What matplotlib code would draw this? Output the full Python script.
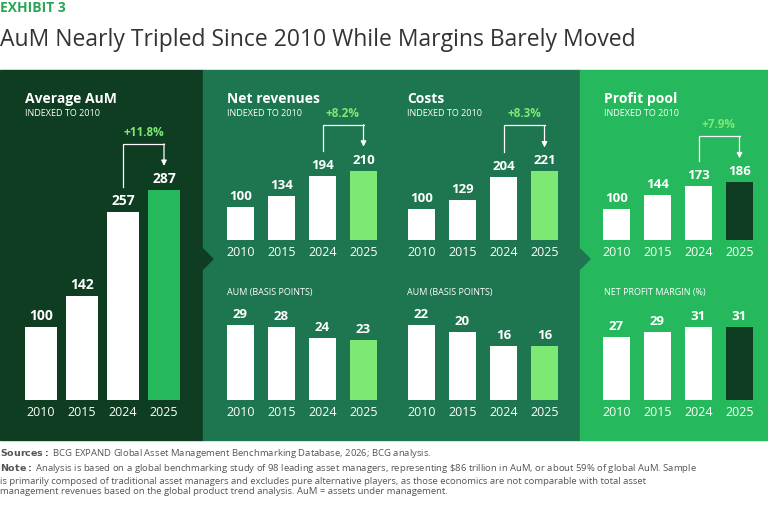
import matplotlib.pyplot as plt
from matplotlib.patches import Rectangle, Polygon

plt.rcParams['font.family'] = ['Open Sans', 'DejaVu Sans']

years = ["2010", "2015", "2024", "2025"]
aum = [100, 142, 257, 287]
net_rev = [100, 134, 194, 210]
costs = [100, 129, 204, 221]
profit = [100, 144, 173, 186]
rev_bp = [29, 28, 24, 23]
cost_bp = [22, 20, 16, 16]
margin = [27, 29, 31, 31]
growth = {"aum": "+11.8%", "rev": "+8.2%", "cost": "+8.3%", "profit": "+7.9%"}

DARK = "#0e3d22"
MID = "#1d7650"
BRIGHT = "#26b85c"
LIME = "#7ee874"
W, H = 768, 508

fig = plt.figure(figsize=(W / 100, H / 100), dpi=100)
bg = fig.add_axes([0, 0, 1, 1])
bg.set_xlim(0, W)
bg.set_ylim(H, 0)
bg.axis("off")

# panels
bg.add_patch(Rectangle((0, 70), 203, 370, color=DARK))
bg.add_patch(Rectangle((203, 70), 377, 370, color=MID))
bg.add_patch(Rectangle((580, 70), 188, 370, color=BRIGHT))
bg.add_patch(Polygon([[203, 249], [213, 259], [203, 269]], color=DARK))
bg.add_patch(Polygon([[580, 249], [590, 259], [580, 269]], color=MID))

bg.text(0, 8, "EXHIBIT 3", color="#2aa553", fontsize=10, fontweight="bold", va="center")
bg.text(0, 40, "AuM Nearly Tripled Since 2010 While Margins Barely Moved",
        color="#333333", fontsize=16.5, va="center")


def heading(x, y, title, sub):
    if title:
        bg.text(x, y, title, color="white", fontsize=10, fontweight="bold", va="center")
    bg.text(x, y + 15, sub, color="white", fontsize=6.5, va="center")


heading(25, 99, "Average AuM", "INDEXED TO 2010")
heading(227, 99, "Net revenues", "INDEXED TO 2010")
heading(407, 99, "Costs", "INDEXED TO 2010")
heading(604, 99, "Profit pool", "INDEXED TO 2010")
heading(227, 278, None, "AUM (BASIS POINTS)")
heading(407, 278, None, "AUM (BASIS POINTS)")
heading(604, 278, None, "NET PROFIT MARGIN (%)")


def chart(x0, base, vals, scale, bw, hi, label=None, fs=9.5):
    # x0 = left pixel of first bar, base = baseline pixel, scale = px per unit
    step = 41
    left = x0 - (step - bw) / 2
    hpx = max(vals) * scale + 80
    ax = fig.add_axes([left / W, (H - base) / H, 4 * step / W, hpx / H])
    ax.set_xlim(-0.5, 3.5)
    ax.set_ylim(0, hpx / scale)
    ax.axis("off")
    colors = ["white"] * 3 + [hi]
    ax.bar(range(4), vals, width=bw / step, color=colors)
    off = 4 / scale
    for i, v in enumerate(vals):
        ax.text(i, v + off, str(v), color="white", fontsize=fs, fontweight="bold",
                ha="center", va="bottom")
        ax.text(i, -12 / scale, years[i], color="white", fontsize=9, ha="center",
                va="center", clip_on=False)
    if label:
        by = vals[3] + 46 / scale
        ax.plot([2, 2, 3], [vals[2] + 25 / scale, by, by], color="white", lw=0.9)
        ax.annotate("", xy=(3, vals[3] + 24 / scale), xytext=(3, by),
                    arrowprops=dict(arrowstyle="-|>", color="white", lw=0.9,
                                    mutation_scale=8, shrinkA=0, shrinkB=0))
        ax.text(2.5, by + 5 / scale, label, color=LIME, fontsize=8.5,
                fontweight="bold", ha="center", va="bottom")


chart(25, 400, aum, 0.732, 32, BRIGHT, growth["aum"], fs=10)
chart(227, 240, net_rev, 0.33, 27, LIME, growth["rev"])
chart(408, 240, costs, 0.31, 27, LIME, growth["cost"])
chart(603, 240, profit, 0.31, 27, DARK, growth["profit"])
chart(227, 400, rev_bp, 2.6, 27, LIME)
chart(408, 400, cost_bp, 3.4, 27, LIME)
chart(603, 400, margin, 2.35, 27, DARK)

bg.text(0, 454, r"$\bf{Sources:}$ BCG EXPAND Global Asset Management Benchmarking Database, 2026; BCG analysis.",
        color="#555555", fontsize=6.8, va="center")
note = ("$\\bf{Note:}$ Analysis is based on a global benchmarking study of 98 leading asset managers, "
        "representing \\$86 trillion in AuM, or about 59% of global AuM. Sample\n"
        "is primarily composed of traditional asset managers and excludes pure alternative players, "
        "as those economics are not comparable with total asset\n"
        "management revenues based on the global product trend analysis. AuM = assets under management.")
bg.text(0, 462, note, color="#555555", fontsize=6.8, va="top", linespacing=1.25)

fig.savefig("out.png", dpi=100)
